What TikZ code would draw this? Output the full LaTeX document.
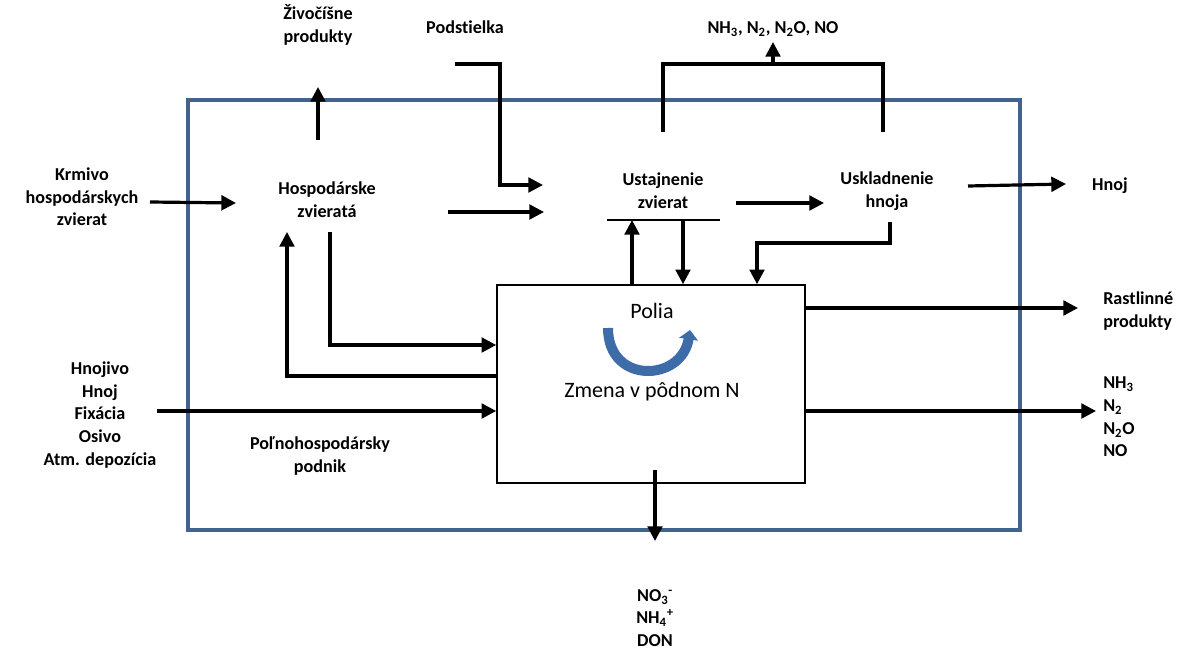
\documentclass[tikz,border=0pt]{standalone}
\usepackage{fontspec}
\setmainfont{Carlito}[Ligatures=NoCommon]
\usepackage{tikz}
\usetikzlibrary{arrows.meta}

\definecolor{farmblue}{RGB}{66,99,142}
\definecolor{cycleblue}{RGB}{62,108,168}

\tikzset{
  lbl/.style={font=\bfseries\fontsize{13.6}{17}\selectfont, align=center, inner sep=0.75pt},
  plain/.style={font=\fontsize{16.5}{17}\selectfont, inner sep=0.75pt},
  flow/.style={line width=2.4pt, -{Triangle[length=11pt,width=11pt]}},
  bar/.style={line width=2.4pt},
}

\begin{document}
\begin{tikzpicture}[x=0.75pt,y=0.75pt,yscale=-1,xscale=1]
    \useasboundingbox (0,0) rectangle (1177,649);

    %Farm boundary
    \draw [farmblue, line width=3pt] (188,100) rectangle (1020,530);

    %Fields box
    \node (polia) [draw, line width=1.2pt, minimum width=231pt, minimum height=148.5pt, inner sep=0pt] at (651,384) {};

    % Text Node
    \node (zivo) [lbl] at (318,25) {Živočíšne\\produkty};
    % Text Node
    \node (podst) [lbl] at (465,27) {Podstielka};
    % Text Node
    \node (plyny) [lbl] at (773,29) {NH\textsubscript{3}, N\textsubscript{2}, N\textsubscript{2}O, NO};
    % Text Node
    \node (krmivo) [lbl] at (82,197) {Krmivo\\hospodárskych\\zvierat};
    % Text Node
    \node (hosp) [lbl] at (327,200) {Hospodárske\\zvieratá};
    % Text Node
    \node (ustaj) [lbl] at (663,191) {Ustajnenie\\zvierat};
    % Text Node
    \node (uskl) [lbl] at (887,191) {Uskladnenie\\hnoja};
    % Text Node
    \node (hnoj) [lbl] at (1110,186) {Hnoj};
    % Text Node
    \node (rastl) [lbl, anchor=west, align=left] at (1102,311) {Rastlinné\\produkty};
    % Text Node
    \node (emis) [lbl, anchor=west, align=left] at (1102,417) {NH\textsubscript{3}\\N\textsubscript{2}\\N\textsubscript{2}O\\NO};
    % Text Node
    \node (vstupy) [lbl] at (100,415) {Hnojivo\\Hnoj\\Fixácia\\Osivo\\Atm. depozícia};
    % Text Node
    \node (podnik) [lbl] at (320,456) {Poľnohospodársky\\podnik};
    % Text Node
    \node (vyluh) [lbl] at (655,618) {NO\textsubscript{3}\textsuperscript{-}\\NH\textsubscript{4}\textsuperscript{+}\\DON};
    % Text Node
    \node (poliat) [plain] at (652,311) {Polia};
    % Text Node
    \node (zmena) [plain] at (652,392) {Zmena v pôdnom N};

    %Arrow ends
    \coordinate (z1) at (318,140);
    \coordinate (z2) at (318,87);
    \coordinate (p1) at (455,64);
    \coordinate (p2) at (500,64);
    \coordinate (p3) at (543,185);
    \coordinate (b1) at (663,132);
    \coordinate (b2) at (663,64);
    \coordinate (b3) at (883,64);
    \coordinate (b4) at (883,132);
    \coordinate (b5) at (773,64);
    \coordinate (b6) at (773,42);
    \coordinate (k1) at (150,202);
    \coordinate (k2) at (236,203);
    \coordinate (h1) at (448,212);
    \coordinate (h2) at (544,212);
    \coordinate (u1) at (607,220);
    \coordinate (u2) at (720,220);
    \coordinate (u3) at (736,203);
    \coordinate (u4) at (824,203);
    \coordinate (s1) at (968,186);
    \coordinate (s2) at (1066,184);
    \coordinate (s3) at (890,222);
    \coordinate (s4) at (757,243);
    \coordinate (a1) at (287,232);
    \coordinate (a2) at (330,232);
    \coordinate (v1) at (157,411);
    \coordinate (r1) at (1078,308);
    \coordinate (e1) at (1096,411);
    \coordinate (d1) at (655,470);
    \coordinate (d2) at (655,541);

    %Arrows
    \draw [flow] (z1) -- (z2);
    \draw [flow] (p1) -- (p2) |- (p3);
    \draw [bar] (b1) -- (b2) -- (b3) -- (b4);
    \draw [flow] (b5) -- (b6);
    \draw [flow] (k1) -- (k2);
    \draw [flow] (h1) -- (h2);
    \draw [line width=1.6pt] (u1) -- (u2);
    \draw [flow] (u3) -- (u4);
    \draw [flow] (s1) -- (s2);
    \draw [flow] (s3) |- (s4) -- (s4 |- polia.north);
    \draw [flow] (polia.north -| 632,0) -- (632,220);
    \draw [flow] (683,220) -- (polia.north -| 683,0);
    \draw [flow] (polia.west |- 0,376) -| (a1);
    \draw [flow] (a2) |- (polia.west |- 0,345);
    \draw [flow] (v1) -- (polia.west |- v1);
    \draw [flow] (polia.east |- r1) -- (r1);
    \draw [flow] (polia.east |- e1) -- (e1);
    \draw [flow] (d1) -- (d2);

    %Cycle arrow
    \draw [cycleblue, line width=7.5pt, -{Triangle[length=7pt,width=14pt]}] (608,328) .. controls (608,385) and (682,382) .. (690,330);
\end{tikzpicture}
\end{document}
